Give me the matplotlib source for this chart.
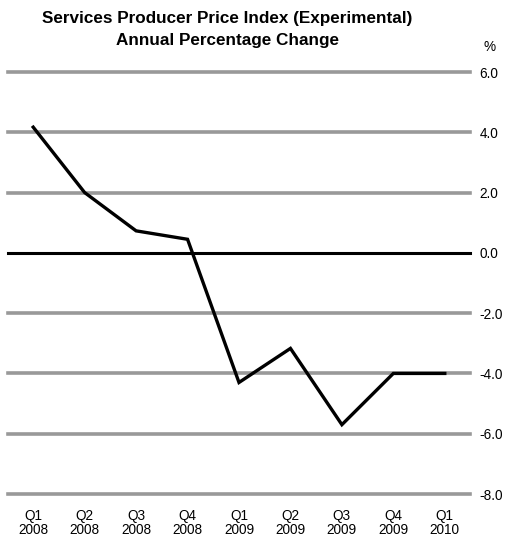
import numpy as np
import matplotlib.pyplot as plt

plt.rcParams['font.family'] = ['Liberation Sans', 'DejaVu Sans']

# Cambio porcentual anual del indice de precios
trimestres = ['Q1\n2008', 'Q2\n2008', 'Q3\n2008', 'Q4\n2008', 'Q1\n2009',
              'Q2\n2009', 'Q3\n2009', 'Q4\n2009', 'Q1\n2010']
cambio = [4.17, 2.0, 0.73, 0.45, -4.3, -3.17, -5.7, -4.0, -4.0]
yticks = [6, 4, 2, 0, -2, -4, -6, -8]

fig = plt.figure(figsize=(5.13, 5.41), dpi=100)
ax = fig.add_axes([8/513, 1-494/541, 462/513, 422/541])

x = np.arange(len(cambio))
for t in yticks:
    if t == 0:
        ax.axhline(t, color='black', linewidth=2.2, zorder=2, clip_on=False)
    else:
        ax.axhline(t, color='#999999', linewidth=2.6, zorder=1, clip_on=False)

ax.plot(x, cambio, '-', color='black', linewidth=2.4, zorder=3,
        solid_joinstyle='miter')

ax.set_xlim(-0.49, 8.49)
ax.set_ylim(-8, 6)
ax.set_xticks(x)
ax.set_xticklabels(trimestres, fontsize=9.8, linespacing=1.0)
ax.set_yticks(yticks)
ax.set_yticklabels(['%.1f' % t for t in yticks], fontsize=9.8)
ax.yaxis.tick_right()
ax.tick_params(axis='y', length=0, pad=7)
ax.tick_params(axis='x', length=0, pad=11)
for s in ax.spines.values():
    s.set_visible(False)

fig.text(227/513, 1-11/541, 'Services Producer Price Index (Experimental)\nAnnual Percentage Change',
         ha='center', va='top', fontsize=12.3, fontweight='bold', linespacing=1.62)
fig.text(490/513, 1-47/541, '%', ha='center', va='center', fontsize=9.8)

fig.savefig('out.png', dpi=100, facecolor='white')
